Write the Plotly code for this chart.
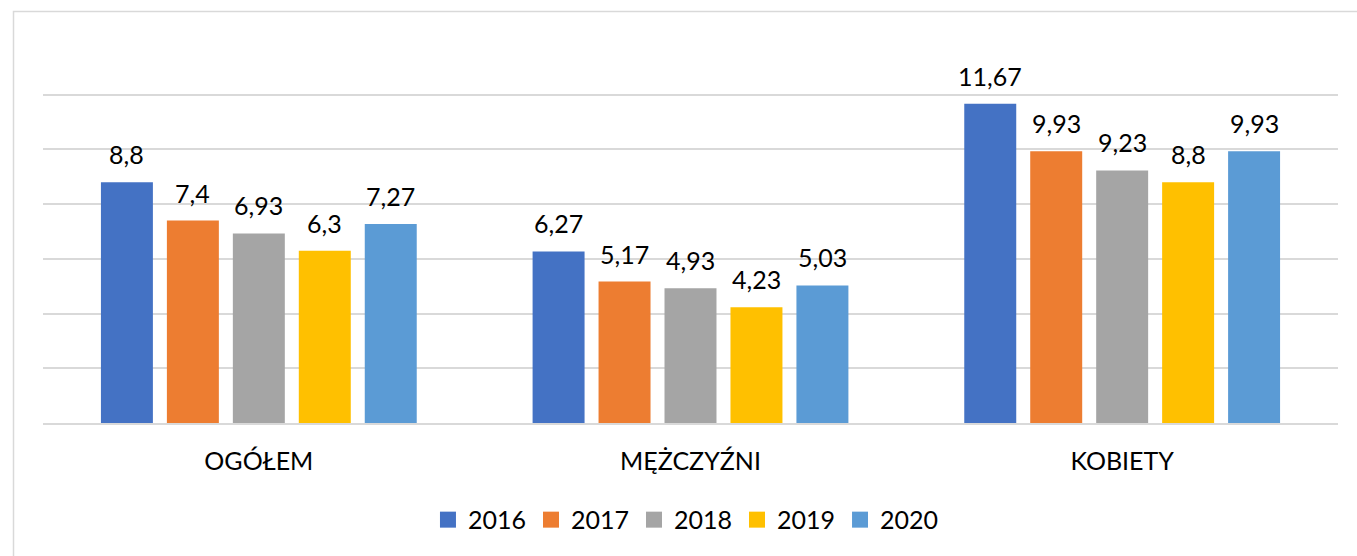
import plotly.graph_objects as go

categories = ["OGÓŁEM", "MĘŻCZYŹNI", "KOBIETY"]
years = ["2016", "2017", "2018", "2019", "2020"]
v2016 = [8.8, 6.27, 11.67]
v2017 = [7.4, 5.17, 9.93]
v2018 = [6.93, 4.93, 9.23]
v2019 = [6.3, 4.23, 8.8]
v2020 = [7.27, 5.03, 9.93]
colors = ["#4472C4", "#ED7D31", "#A5A5A5", "#FFC000", "#5B9BD5"]

series = [v2016, v2017, v2018, v2019, v2020]
FONT = "Lato"
FS = 25
BARGAP = 0.236

fig = go.Figure()
for name, vals, col in zip(years, series, colors):
    fig.add_trace(go.Bar(x=categories, y=vals, name=name, marker_color=col,
                         marker_line_width=0, showlegend=False))
for name, col in zip(years, colors):
    fig.add_trace(go.Scatter(x=[None], y=[None], mode="markers", name=name,
                             marker=dict(symbol="square", size=16, color=col)))

slot = (1 - BARGAP) / len(years)
annotations = []
for i, vals in enumerate(series):
    off = (i - (len(years) - 1) / 2) * slot
    for j, v in enumerate(vals):
        annotations.append(dict(x=j + off, y=v, xref="x", yref="y",
                                text=f"{v:g}".replace(".", ","), showarrow=False,
                                yanchor="bottom", yshift=11,
                                font=dict(family=FONT, size=FS, color="#000000")))

fig.update_layout(
    width=1357, height=556,
    margin=dict(l=43, r=19, t=40, b=133),
    paper_bgcolor="white", plot_bgcolor="white",
    barmode="group", bargap=BARGAP, bargroupgap=0.212,
    font=dict(family=FONT, size=FS, color="#000000"),
    annotations=annotations,
    legend=dict(orientation="h", x=0.4965, xanchor="center", y=-0.253, yanchor="middle",
                font=dict(family=FONT, size=25), itemwidth=30, tracegroupgap=0),
    shapes=[dict(type="rect", xref="paper", yref="paper",
                 x0=(13.5 - 43) / 1295, x1=1.2, y0=-0.6, y1=(423 - 11.5) / 383,
                 line=dict(color="#D9D9D9", width=1.5), fillcolor="rgba(0,0,0,0)", layer="below")],
)
fig.update_xaxes(showline=True, linecolor="#D9D9D9", linewidth=2, ticks="",
                 ticklabelstandoff=15, tickfont=dict(family=FONT, size=FS, color="#000000"),
                 showgrid=False)
fig.update_yaxes(range=[0, 14], dtick=2, showgrid=True, gridcolor="#D9D9D9", gridwidth=1.5,
                 showticklabels=False, zeroline=False, fixedrange=True)

fig.write_html("out.html")
